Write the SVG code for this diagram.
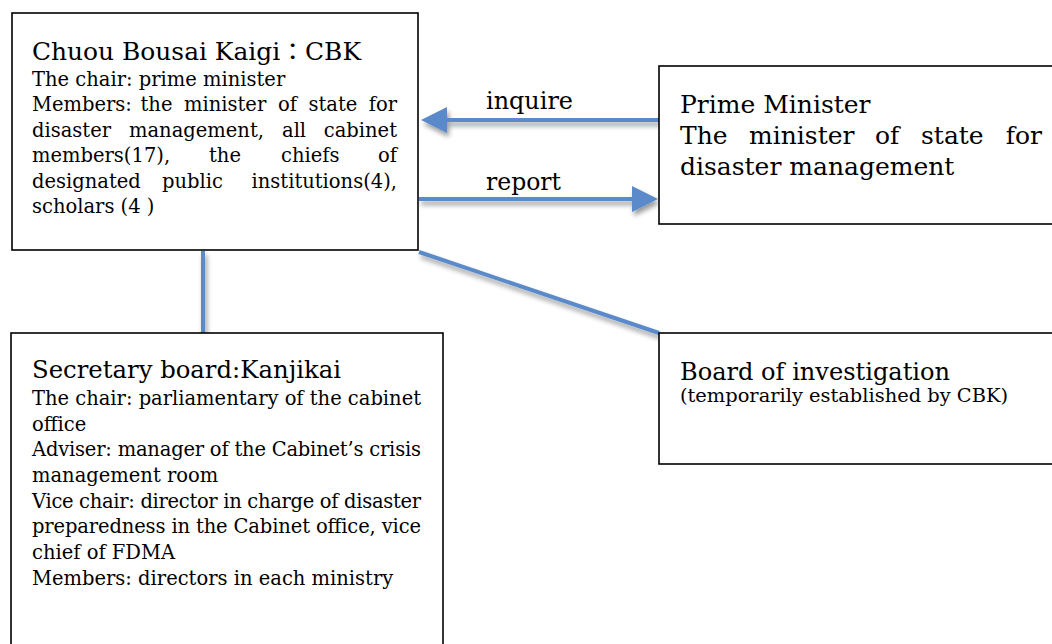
<svg xmlns="http://www.w3.org/2000/svg" width="1052" height="644" viewBox="0 0 1052 644">
<style>
.box{fill:#fff;stroke:#000;stroke-width:1.6}
text{font-family:"DejaVu Serif","Liberation Serif",serif;fill:#000}
.title{font-size:24px}
.big{font-size:25px}
.body{font-size:19.5px}
.lbl{font-size:24px}
.sub{font-size:18px}
.conn{stroke:#5A8ACA;stroke-width:4;fill:none}
</style>
<defs>
<filter id="sh" filterUnits="userSpaceOnUse" x="0" y="0" width="1052" height="644">
<feGaussianBlur in="SourceAlpha" stdDeviation="2.4"/>
<feOffset dx="2" dy="4" result="o"/>
<feComponentTransfer><feFuncA type="linear" slope="0.4"/></feComponentTransfer>
<feMerge><feMergeNode/><feMergeNode in="SourceGraphic"/></feMerge>
</filter>
<marker id="ah" markerUnits="userSpaceOnUse" markerWidth="27" markerHeight="27" refX="0" refY="13" orient="auto" viewBox="0 0 27 26">
<polygon points="0,0 26,13 0,26" fill="#5A8ACA"/>
</marker>
</defs>

<g id="connectors" filter="url(#sh)">
<line class="conn" x1="659" y1="120" x2="447" y2="120" marker-end="url(#ah)"/>
<line class="conn" x1="419" y1="199" x2="632" y2="199" marker-end="url(#ah)"/>
<line class="conn" x1="203" y1="251" x2="203" y2="333"/>
<line class="conn" x1="419" y1="252" x2="659" y2="333"/>
</g>

<g id="labels">
<text class="lbl" x="486" y="109" textLength="87" lengthAdjust="spacingAndGlyphs">inquire</text>
<text class="lbl" x="486" y="190" textLength="75" lengthAdjust="spacingAndGlyphs">report</text>
</g>

<g id="cbk">
<rect class="box" x="12" y="13" width="406" height="237"/>
<text class="title" x="32" y="60" textLength="329" lengthAdjust="spacingAndGlyphs">Chuou Bousai Kaigi<tspan font-family="'Noto Sans CJK JP',sans-serif">：</tspan>CBK</text>
<text class="body" x="32" y="86">The chair: prime minister</text>
<text class="body" y="111"><tspan x="32">Members:</tspan><tspan x="140.5">the</tspan><tspan x="184">minister</tspan><tspan x="278">of</tspan><tspan x="308.5">state</tspan></text>
<text class="body" x="397" y="111" text-anchor="end">for</text>
<text class="body" y="137"><tspan x="32">disaster</tspan><tspan x="129">management,</tspan><tspan x="282">all</tspan></text>
<text class="body" x="397" y="137" text-anchor="end">cabinet</text>
<text class="body" y="162"><tspan x="32">members(17),</tspan><tspan x="209">the</tspan><tspan x="281">chiefs</tspan></text>
<text class="body" x="397" y="162" text-anchor="end">of</text>
<text class="body" y="188"><tspan x="32">designated</tspan><tspan x="162">public</tspan></text>
<text class="body" x="397" y="188" text-anchor="end">institutions(4),</text>
<text class="body" x="32" y="213">scholars (4 )</text>
</g>

<g id="prime-minister">
<rect class="box" x="659" y="66" width="400" height="158"/>
<text class="big" x="680" y="113">Prime Minister</text>
<text class="big" y="144"><tspan x="680">The</tspan><tspan x="749">minister</tspan><tspan x="875">of</tspan><tspan x="921">state</tspan></text>
<text class="big" x="1042" y="144" text-anchor="end">for</text>
<text class="big" x="680" y="175">disaster management</text>
</g>

<g id="kanjikai">
<rect class="box" x="11" y="333" width="432" height="320"/>
<text class="title" x="32" y="378" textLength="309" lengthAdjust="spacingAndGlyphs">Secretary board:Kanjikai</text>
<text class="body" x="32" y="405" textLength="389" lengthAdjust="spacing">The chair: parliamentary of the cabinet</text>
<text class="body" x="32" y="431">office</text>
<text class="body" x="32" y="456" textLength="389" lengthAdjust="spacing">Adviser: manager of the Cabinet’s crisis</text>
<text class="body" x="32" y="482">management room</text>
<text class="body" x="32" y="508" textLength="389" lengthAdjust="spacing">Vice chair: director in charge of disaster</text>
<text class="body" x="32" y="533" textLength="389" lengthAdjust="spacing">preparedness in the Cabinet office, vice</text>
<text class="body" x="32" y="559">chief of FDMA</text>
<text class="body" x="32" y="585">Members: directors in each ministry</text>
</g>

<g id="investigation">
<rect class="box" x="659" y="333" width="400" height="131"/>
<text class="title" x="680" y="380" textLength="270" lengthAdjust="spacingAndGlyphs">Board of investigation</text>
<text class="sub" x="680" y="402" textLength="328" lengthAdjust="spacingAndGlyphs">(temporarily established by CBK)</text>
</g>
</svg>
